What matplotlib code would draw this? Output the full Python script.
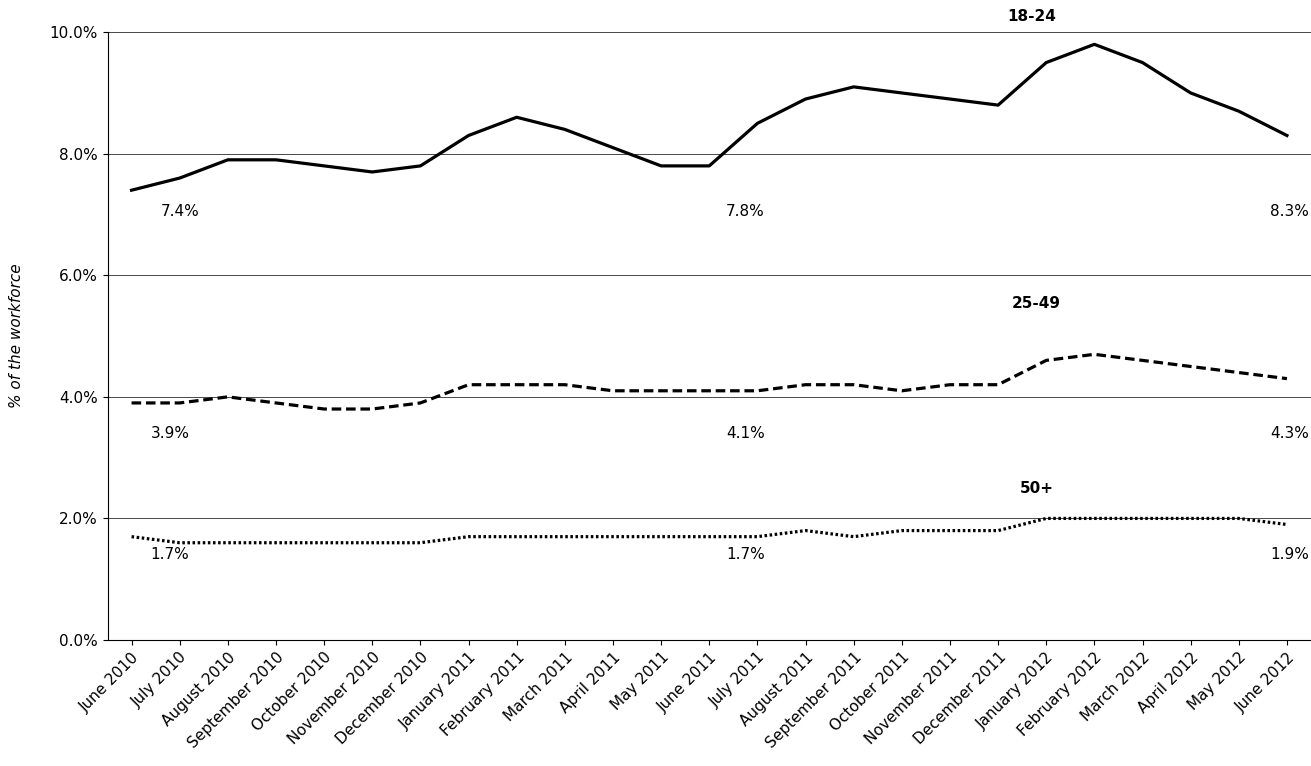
import matplotlib.pyplot as plt
import numpy as np

months = ['June 2010', 'July 2010', 'August 2010', 'September 2010', 'October 2010',
          'November 2010', 'December 2010', 'January 2011', 'February 2011', 'March 2011',
          'April 2011', 'May 2011', 'June 2011', 'July 2011', 'August 2011',
          'September 2011', 'October 2011', 'November 2011', 'December 2011',
          'January 2012', 'February 2012', 'March 2012', 'April 2012', 'May 2012', 'June 2012']
age_18_24 = [7.4, 7.6, 7.9, 7.9, 7.8, 7.7, 7.8, 8.3, 8.6, 8.4, 8.1, 7.8, 7.8, 8.5, 8.9,
             9.1, 9.0, 8.9, 8.8, 9.5, 9.8, 9.5, 9.0, 8.7, 8.3]
age_25_49 = [3.9, 3.9, 4.0, 3.9, 3.8, 3.8, 3.9, 4.2, 4.2, 4.2, 4.1, 4.1, 4.1, 4.1, 4.2,
             4.2, 4.1, 4.2, 4.2, 4.6, 4.7, 4.6, 4.5, 4.4, 4.3]
age_50 = [1.7, 1.6, 1.6, 1.6, 1.6, 1.6, 1.6, 1.7, 1.7, 1.7, 1.7, 1.7, 1.7, 1.7, 1.8,
          1.7, 1.8, 1.8, 1.8, 2.0, 2.0, 2.0, 2.0, 2.0, 1.9]
label_idx = [0, 12, 24]

plt.rcParams['font.family'] = ['DejaVu Sans']
fig = plt.figure(figsize=(13.11, 7.66), dpi=100)
ax = fig.add_axes([0.082, 0.1645, 0.918, 0.7935])
x = np.arange(len(months))

ax.plot(x, age_18_24, color='black', lw=2.3, ls='-')
ax.plot(x, age_25_49, color='black', lw=2.3, ls=(0, (3, 1.5)))
ax.plot(x, age_50, color='black', lw=2.3, ls=(0, (0.8, 0.8)))

# point labels (first, middle, last)
for series, ylab, x0 in [(age_18_24, 7.05, 1.0), (age_25_49, 3.4, 0.8), (age_50, 1.4, 0.8)]:
    for i, xl in zip(label_idx, [x0, 12.75, 24.05]):
        ax.text(xl, ylab, '%.1f%%' % series[i], ha='center', va='center', fontsize=11)

ax.text(18.7, 10.26, '18-24', ha='center', va='center', fontsize=11, fontweight='bold')
ax.text(18.8, 5.53, '25-49', ha='center', va='center', fontsize=11, fontweight='bold')
ax.text(18.8, 2.5, '50+', ha='center', va='center', fontsize=11, fontweight='bold')

ax.set_xlim(-0.5, 24.5)
ax.set_ylim(0, 10)
ax.set_yticks(np.arange(0, 10.1, 2))
ax.set_yticklabels(['%.1f%%' % v for v in np.arange(0, 10.1, 2)], fontsize=11)
ax.set_xticks(x)
ax.set_xticklabels(months, rotation=45, ha='right', rotation_mode='anchor', fontsize=11)
ax.grid(axis='y', color='black', lw=0.5)
ax.set_axisbelow(True)
for s in ['top', 'right']:
    ax.spines[s].set_visible(False)
ax.set_ylabel('% of the workforce', fontsize=11, style='italic', labelpad=18)

fig.savefig('out.png')
